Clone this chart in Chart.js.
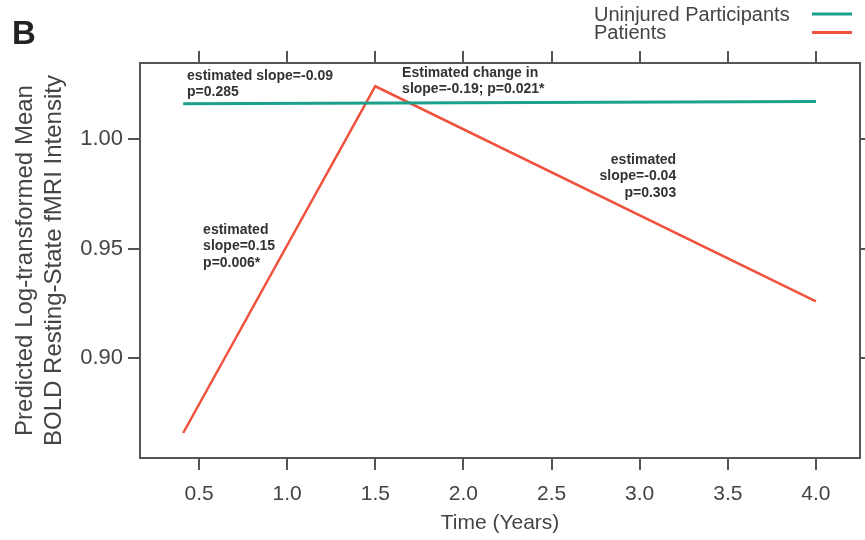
<!DOCTYPE html>
<html>
<head>
<meta charset="utf-8">
<script src="https://cdn.jsdelivr.net/npm/chart.js@4"></script>
<style>
  html, body { margin: 0; padding: 0; background: #fff; }
  #wrap { width: 865px; height: 540px; }
</style>
</head>
<body>
<div id="wrap"><canvas id="myChart" width="865" height="540"></canvas></div>
<script>
// values
const controlTimes = [0.41, 4.0];
const controlValues = [1.016, 1.017];
const patientTimes = [0.41, 1.5, 4.0];
const patientValues = [0.866, 1.024, 0.926];
const seriesLabels = ['Uninjured Participants', 'Patients'];
const xTicks = [0.5, 1.0, 1.5, 2.0, 2.5, 3.0, 3.5, 4.0];
const yTicks = [0.90, 0.95, 1.00];

// text notes, anchored in data units
const notes = [
    { x: 0.432, y: 1.0287, align: 'left', lines: ['estimated slope=-0.09', 'p=0.285'] },
    { x: 1.652, y: 1.0300, align: 'left', lines: ['Estimated change in', 'slope=-0.19; p=0.021*'] },
    { x: 3.207, y: 0.9904, align: 'right', lines: ['estimated', 'slope=-0.04', 'p=0.303'] },
    { x: 0.523, y: 0.9585, align: 'left', lines: ['estimated', 'slope=0.15', 'p=0.006*'] }
];

const FONT = '"Liberation Sans", Arial, Helvetica, sans-serif';
const TEAL = 'rgb(27, 160, 138)';
const RED = 'rgb(240, 82, 62)';
const AXIS = '#555';

function toPoints(xs, ys) {
    return xs.map((v, i) => ({ x: v, y: ys[i] }));
}

const overlay = {
    id: 'overlay',
    afterDraw(chart) {
        const ctx = chart.ctx;
        const sx = chart.scales.x;
        const sy = chart.scales.y;
        ctx.save();
        // panel letter
        ctx.fillStyle = '#222';
        ctx.font = 'bold 33px ' + FONT;
        ctx.textAlign = 'left';
        ctx.textBaseline = 'alphabetic';
        ctx.fillText('B', 12, 44);

        // legend: text then line sample
        ctx.font = '20px ' + FONT;
        ctx.textBaseline = 'middle';
        chart.data.datasets.forEach((ds, i) => {
            const yy = 14 + i * 18.5;
            ctx.fillStyle = '#444';
            ctx.fillText(ds.label, 594, yy + 1);
            ctx.strokeStyle = ds.borderColor;
            ctx.lineWidth = 3;
            ctx.beginPath();
            ctx.moveTo(812, yy);
            ctx.lineTo(852, yy);
            ctx.stroke();
        });

        // annotations
        ctx.font = 'bold 14px ' + FONT;
        ctx.fillStyle = '#333';
        notes.forEach(n => {
            ctx.textAlign = n.align;
            const px = sx.getPixelForValue(n.x);
            const py = sy.getPixelForValue(n.y);
            n.lines.forEach((t, i) => ctx.fillText(t, px, py + i * 16.5));
        });
        ctx.restore();
    }
};

const gridStyle = {
    drawOnChartArea: false,
    drawTicks: true,
    tickLength: 12,
    color: AXIS,
    lineWidth: 2
};
const borderStyle = { display: true, color: AXIS, width: 2 };

const canvas = document.getElementById('myChart').getContext('2d');
const myChart = new Chart(canvas, {
    type: 'line',
    data: {
        datasets: [
            {
                label: seriesLabels[0],
                data: toPoints(controlTimes, controlValues),
                borderColor: TEAL,
                borderWidth: 3,
                pointRadius: 0,
                tension: 0,
                fill: false
            },
            {
                label: seriesLabels[1],
                data: toPoints(patientTimes, patientValues),
                borderColor: RED,
                borderWidth: 2.5,
                pointRadius: 0,
                tension: 0,
                fill: false
            }
        ]
    },
    options: {
        responsive: false,
        animation: false,
        layout: { padding: 0 },
        plugins: {
            legend: { display: false },
            tooltip: { enabled: false }
        },
        scales: {
            x: {
                type: 'linear',
                position: 'bottom',
                min: 0.165,
                max: 4.25,
                afterBuildTicks: axis => { axis.ticks = xTicks.map(v => ({ value: v })); },
                afterFit: axis => { axis.height = 82; },
                grid: gridStyle,
                border: borderStyle,
                ticks: {
                    padding: 12,
                    color: '#444',
                    font: { family: FONT, size: 21 },
                    callback: v => v.toFixed(1)
                },
                title: {
                    display: true,
                    text: 'Time (Years)',
                    color: '#444',
                    font: { family: FONT, size: 21 },
                    padding: { top: 0, bottom: 4 }
                }
            },
            x2: {
                type: 'linear',
                position: 'top',
                min: 0.165,
                max: 4.25,
                afterBuildTicks: axis => { axis.ticks = xTicks.map(v => ({ value: v })); },
                afterFit: axis => { axis.height = 63; },
                grid: gridStyle,
                border: borderStyle,
                ticks: { display: false }
            },
            y: {
                type: 'linear',
                position: 'left',
                min: 0.8546,
                max: 1.0346,
                afterBuildTicks: axis => { axis.ticks = yTicks.map(v => ({ value: v })); },
                afterFit: axis => { axis.width = 140; },
                grid: gridStyle,
                border: borderStyle,
                ticks: {
                    padding: 5,
                    color: '#444',
                    font: { family: FONT, size: 22 },
                    callback: v => v.toFixed(2)
                },
                title: {
                    display: true,
                    text: ['Predicted Log-transformed Mean', 'BOLD Resting-State fMRI Intensity'],
                    color: '#444',
                    font: { family: FONT, size: 24 },
                    padding: { top: 11, bottom: 0 }
                }
            },
            y2: {
                type: 'linear',
                position: 'right',
                min: 0.8546,
                max: 1.0346,
                afterBuildTicks: axis => { axis.ticks = yTicks.map(v => ({ value: v })); },
                afterFit: axis => { axis.width = 5; },
                grid: Object.assign({}, gridStyle, { tickLength: 8 }),
                border: borderStyle,
                ticks: { display: false }
            }
        }
    },
    plugins: [overlay]
});
</script>
</body>
</html>
